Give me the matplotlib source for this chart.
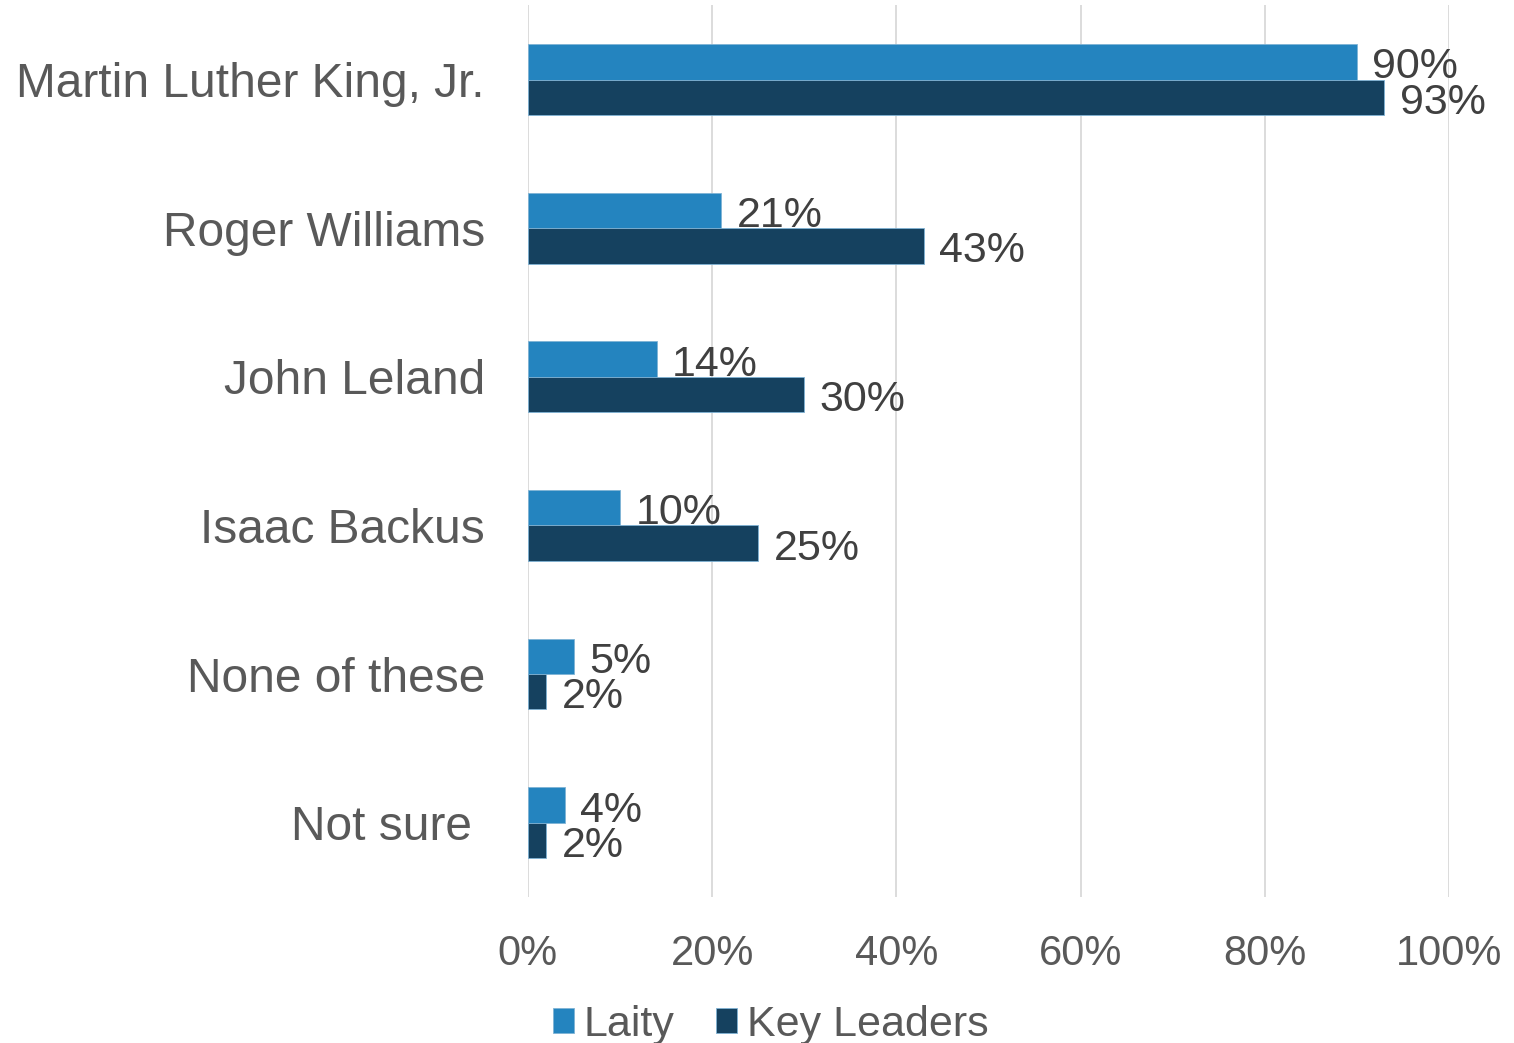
import numpy as np
import matplotlib.pyplot as plt

plt.rcParams['font.family'] = ['Liberation Sans', 'DejaVu Sans']

# Dữ liệu
categories = ["Martin Luther King, Jr.", "Roger Williams", "John Leland",
              "Isaac Backus", "None of these", "Not sure "]
laity = [90, 21, 14, 10, 5, 4]
key_leaders = [93, 43, 30, 25, 2, 2]
xticks = [0, 20, 40, 60, 80, 100]

c_laity = '#2484BF'
c_key = '#15415F'

fig = plt.figure(figsize=(15.14, 10.43), dpi=100)
ax = fig.add_axes([0.3487, 0.140, 0.6083, 0.855])

y = np.arange(len(categories))
h = 0.238

b1 = ax.barh(y - h / 2, laity, height=h, color=c_laity, edgecolor='#7FB3D5',
             linewidth=0.6, label='Laity', zorder=3)
b2 = ax.barh(y + h / 2, key_leaders, height=h, color=c_key, edgecolor='#7FB3D5',
             linewidth=0.6, label='Key Leaders', zorder=3)

# nhãn số liệu
for bars, vals in [(b1, laity), (b2, key_leaders)]:
    for bar, v in zip(bars, vals):
        ax.annotate(f"{v}%", (bar.get_width(), bar.get_y() + bar.get_height() / 2),
                    xytext=(11, -4), textcoords='offset points', va='center',
                    ha='left', fontsize=31, color='#404040', zorder=4)

ax.set_xlim(0, 100)
ax.set_ylim(5.5, -0.5)
ax.set_yticks(y)
ax.set_yticklabels(categories, fontsize=34.5, color='#595959')
ax.set_xticks(xticks)
ax.set_xticklabels([f"{t}%" for t in xticks], fontsize=30, color='#595959')
ax.tick_params(axis='both', length=0)
ax.tick_params(axis='y', pad=31)
ax.tick_params(axis='x', pad=27)
ax.grid(axis='x', color='#D9D9D9', linewidth=1.3, zorder=0)
for s in ax.spines.values():
    s.set_visible(False)

fig.legend(handles=[b1, b2], loc='lower center', bbox_to_anchor=(0.509, -0.039),
           ncol=2, frameon=False, fontsize=31, handlelength=0.5, handleheight=0.5,
           handletextpad=0.22, columnspacing=0.95, labelcolor='#595959')

fig.savefig('out.png', dpi=100)
